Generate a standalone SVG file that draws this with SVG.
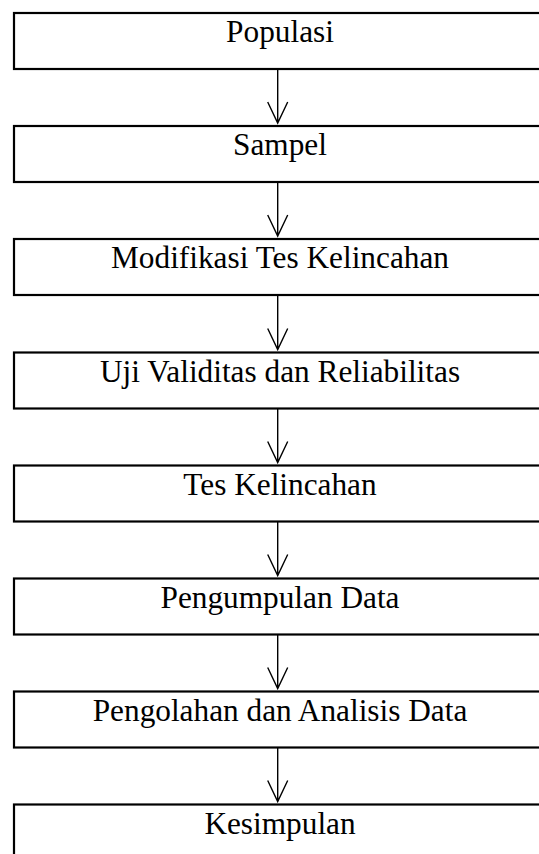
<svg xmlns="http://www.w3.org/2000/svg" width="539" height="854" viewBox="0 0 539 854">
<style>
.box{fill:#fff;stroke:#000;stroke-width:2.2}
.lbl{font-family:"Liberation Serif","Times New Roman",serif;font-size:31.3px;fill:#000;text-anchor:middle}
.arr{fill:none;stroke:#000;stroke-width:1.4}
</style>
<rect width="539" height="854" fill="#fff"/>
<g id="n1"><rect class="box" x="14" y="13" width="531" height="56"/><text class="lbl" x="280" y="42">Populasi</text></g>
<g id="n2"><rect class="box" x="14" y="126" width="531" height="56"/><text class="lbl" x="280" y="155">Sampel</text></g>
<g id="n3"><rect class="box" x="14" y="239" width="531" height="56"/><text class="lbl" x="280" y="268">Modifikasi Tes Kelincahan</text></g>
<g id="n4"><rect class="box" x="14" y="352.5" width="531" height="56"/><text class="lbl" x="280" y="381.5">Uji Validitas dan Reliabilitas</text></g>
<g id="n5"><rect class="box" x="14" y="465.5" width="531" height="56"/><text class="lbl" x="280" y="494.5">Tes Kelincahan</text></g>
<g id="n6"><rect class="box" x="14" y="578.5" width="531" height="56"/><text class="lbl" x="280" y="607.5">Pengumpulan Data</text></g>
<g id="n7"><rect class="box" x="14" y="691.5" width="531" height="56"/><text class="lbl" x="280" y="720.5">Pengolahan dan Analisis Data</text></g>
<g id="n8"><rect class="box" x="14" y="804.5" width="531" height="56"/><text class="lbl" x="280" y="833.5">Kesimpulan</text></g>
<g id="connectors" class="arr">
<path d="M277.7 69V123M267.7 102L277.7 123L287.7 102"/>
<path d="M277.7 182V236M267.7 215L277.7 236L287.7 215"/>
<path d="M277.7 295V349.5M267.7 328.5L277.7 349.5L287.7 328.5"/>
<path d="M277.7 408.5V462.5M267.7 441.5L277.7 462.5L287.7 441.5"/>
<path d="M277.7 521.5V575.5M267.7 554.5L277.7 575.5L287.7 554.5"/>
<path d="M277.7 634.5V688.5M267.7 667.5L277.7 688.5L287.7 667.5"/>
<path d="M277.7 747.5V801.5M267.7 780.5L277.7 801.5L287.7 780.5"/>
</g>
</svg>
